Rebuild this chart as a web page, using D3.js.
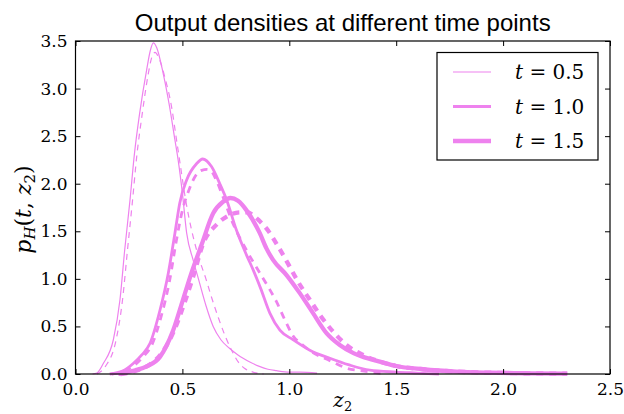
<!DOCTYPE html>
<html><head><meta charset="utf-8">
<script src="https://cdn.jsdelivr.net/npm/d3@7"></script>
<style>body{margin:0;background:#fff}svg{display:block}</style>
</head><body>
<svg id="c" width="624" height="414"></svg>
<script>
const title = "Output densities at different time points";
const xTicks = [0.0, 0.5, 1.0, 1.5, 2.0, 2.5];
const yTicks = [0.0, 0.5, 1.0, 1.5, 2.0, 2.5, 3.0, 3.5];
const legendLabels = ["0.5", "1.0", "1.5"];

const t05SolidX = [0.08,0.10,0.13,0.177,0.208,0.23,0.255,0.275,0.30,0.333,0.35,0.364,0.38,0.41,0.44,0.465,0.48,0.50,0.52,0.55,0.575,0.61,0.644,0.68,0.72,0.76,0.78,0.82,0.86,0.90,0.94,1.00,1.05,1.13];
const t05SolidY = [0,0.01,0.11,0.36,0.78,1.30,1.83,2.3,2.74,3.2,3.4,3.48,3.43,3.16,2.81,2.46,2.25,1.9,1.48,1.2,1.0,0.72,0.5,0.36,0.27,0.2,0.17,0.12,0.08,0.05,0.035,0.02,0.02,0.01];
const t05DashX = [0.10,0.14,0.19,0.22,0.243,0.267,0.287,0.31,0.34,0.357,0.372,0.39,0.42,0.45,0.47,0.49,0.51,0.53,0.555,0.58,0.61,0.64,0.67,0.70,0.73,0.76,0.79,0.83,0.88];
const t05DashY = [0,0.08,0.36,0.78,1.30,1.83,2.3,2.7,3.15,3.33,3.38,3.32,3.1,2.8,2.5,2.2,1.9,1.65,1.4,1.2,1.0,0.78,0.58,0.40,0.25,0.13,0.06,0.02,0];

const t10SolidX = [0.16,0.22,0.27,0.31,0.348,0.395,0.434,0.465,0.488,0.52,0.566,0.595,0.636,0.675,0.707,0.753,0.80,0.83,0.866,0.909,0.956,1.018,1.096,1.19,1.28,1.376,1.5,1.6,1.7];
const t10SolidY = [0,0.03,0.11,0.2,0.32,0.67,1.06,1.48,1.8,2.04,2.21,2.26,2.18,2.0,1.83,1.51,1.25,1.1,0.9,0.64,0.46,0.36,0.25,0.165,0.095,0.04,0.02,0.01,0];
const t10DashX = [0.17,0.23,0.28,0.32,0.356,0.40,0.44,0.47,0.50,0.53,0.558,0.59,0.615,0.636,0.66,0.69,0.737,0.80,0.86,0.90,0.94,0.979,1.018,1.06,1.10,1.19,1.27,1.35,1.45];
const t10DashY = [0,0.03,0.1,0.19,0.3,0.6,0.98,1.38,1.72,1.93,2.07,2.14,2.15,2.13,2.03,1.86,1.58,1.30,1.07,0.92,0.76,0.57,0.40,0.31,0.24,0.14,0.06,0.03,0];

const t15SolidX = [0.20,0.223,0.28,0.333,0.395,0.457,0.504,0.542,0.59,0.644,0.69,0.725,0.76,0.80,0.862,0.893,0.924,0.987,1.049,1.111,1.174,1.236,1.30,1.345,1.423,1.5,1.625,1.78,1.94,2.1,2.3];
const t15SolidY = [0,0.01,0.04,0.08,0.18,0.46,0.79,1.06,1.36,1.69,1.81,1.85,1.82,1.72,1.48,1.32,1.2,1.04,0.85,0.64,0.43,0.305,0.22,0.18,0.13,0.084,0.05,0.025,0.014,0.008,0.003];
const t15DashX = [0.21,0.24,0.29,0.34,0.403,0.46,0.51,0.55,0.597,0.66,0.72,0.77,0.80,0.83,0.86,0.893,0.948,0.994,1.041,1.096,1.15,1.205,1.27,1.345,1.423,1.5,1.625,1.78,1.94,2.1,2.3];
const t15DashY = [0,0.01,0.04,0.09,0.22,0.45,0.75,1.02,1.37,1.57,1.67,1.70,1.70,1.67,1.61,1.53,1.34,1.16,0.97,0.78,0.6,0.445,0.3,0.2,0.13,0.084,0.05,0.025,0.014,0.008,0.003];

const color = "#EE82EE";
const widths = [1.2, 2.8, 4.3];

const svg = d3.select("#c");
const L = 75.5, R = 610, T = 41, B = 374;
const x = d3.scaleLinear().domain([0, 2.5]).range([L, R]);
const y = d3.scaleLinear().domain([0, 3.5]).range([B, T]);

const series = [
  {xs: t05SolidX, ys: t05SolidY, w: widths[0], dash: null},
  {xs: t05DashX, ys: t05DashY, w: widths[0], dash: "6,5"},
  {xs: t10SolidX, ys: t10SolidY, w: widths[1], dash: null},
  {xs: t10DashX, ys: t10DashY, w: widths[1], dash: "7,6"},
  {xs: t15SolidX, ys: t15SolidY, w: widths[2], dash: null},
  {xs: t15DashX, ys: t15DashY, w: widths[2], dash: "7,6"}
];

const line = d3.line().x(d => x(d[0])).y(d => y(d[1])).curve(d3.curveMonotoneX);
series.forEach(s => {
  const pts = s.xs.map((v, i) => [v, s.ys[i]]);
  svg.append("path").attr("d", line(pts)).attr("fill", "none")
    .attr("stroke", color).attr("stroke-width", s.w)
    .attr("stroke-dasharray", s.dash).attr("stroke-linejoin", "round");
});

// frame
svg.append("rect").attr("x", L).attr("y", T).attr("width", R - L).attr("height", B - T)
  .attr("fill", "none").attr("stroke", "#000").attr("stroke-width", 1.2);

// axes with inward ticks
const tickLen = 5;
const axB = d3.axisBottom(x).tickValues(xTicks).tickFormat(d3.format(".1f")).tickSizeInner(-tickLen).tickSizeOuter(0).tickPadding(9);
const axT = d3.axisTop(x).tickValues(xTicks).tickFormat("").tickSizeInner(-tickLen).tickSizeOuter(0);
const axL = d3.axisLeft(y).tickValues(yTicks).tickFormat(d3.format(".1f")).tickSizeInner(-tickLen).tickSizeOuter(0).tickPadding(8);
const axR = d3.axisRight(y).tickValues(yTicks).tickFormat("").tickSizeInner(-tickLen).tickSizeOuter(0);
[[axB, `translate(0,${B})`], [axT, `translate(0,${T})`], [axL, `translate(${L},0)`], [axR, `translate(${R},0)`]].forEach(([a, tr]) => {
  const g = svg.append("g").attr("transform", tr).call(a);
  g.select(".domain").remove();
  g.selectAll("line").attr("stroke", "#000").attr("stroke-width", 1);
  g.selectAll("text").attr("font-family", "DejaVu Serif, serif").attr("font-size", 17).attr("fill", "#000");
});

// title
svg.append("text").attr("x", (L + R) / 2).attr("y", 31).attr("text-anchor", "middle")
  .attr("font-family", "Liberation Sans, Arial, sans-serif").attr("font-size", 24).text(title);

// x label
const xl = svg.append("text").attr("x", (L + R) / 2).attr("y", 407).attr("text-anchor", "middle")
  .attr("font-family", "DejaVu Serif, serif").attr("font-size", 20);
xl.append("tspan").attr("font-style", "italic").text("z");
xl.append("tspan").attr("font-size", 13).attr("dy", 4).text("2");

// y label
const yl = svg.append("text").attr("transform", `translate(31,${(T + B) / 2 + 2}) rotate(-90)`).attr("text-anchor", "middle")
  .attr("font-family", "DejaVu Serif, serif").attr("font-size", 22);
yl.append("tspan").attr("font-style", "italic").text("p");
yl.append("tspan").attr("font-style", "italic").attr("font-size", 15).attr("dy", 4).text("H");
yl.append("tspan").attr("dy", -4).text("(");
yl.append("tspan").attr("font-style", "italic").text("t");
yl.append("tspan").text(", ");
yl.append("tspan").attr("font-style", "italic").text("z");
yl.append("tspan").attr("font-size", 15).attr("dy", 4).text("2");
yl.append("tspan").attr("dy", -4).text(")");

// legend
const lg = svg.append("g");
lg.append("rect").attr("x", 437).attr("y", 52.5).attr("width", 161).attr("height", 107.5)
  .attr("fill", "#fff").attr("stroke", "#000").attr("stroke-width", 1.2);
const rowY = [72, 106.5, 141];
legendLabels.forEach((lab, i) => {
  lg.append("line").attr("x1", 453).attr("x2", 491).attr("y1", rowY[i]).attr("y2", rowY[i])
    .attr("stroke", color).attr("stroke-width", widths[i]);
  const t = lg.append("text").attr("x", 515).attr("y", rowY[i] + 7)
    .attr("font-family", "DejaVu Serif, serif").attr("font-size", 20);
  t.append("tspan").attr("font-style", "italic").text("t");
  t.append("tspan").text(" = " + lab);
});
</script>
</body></html>
